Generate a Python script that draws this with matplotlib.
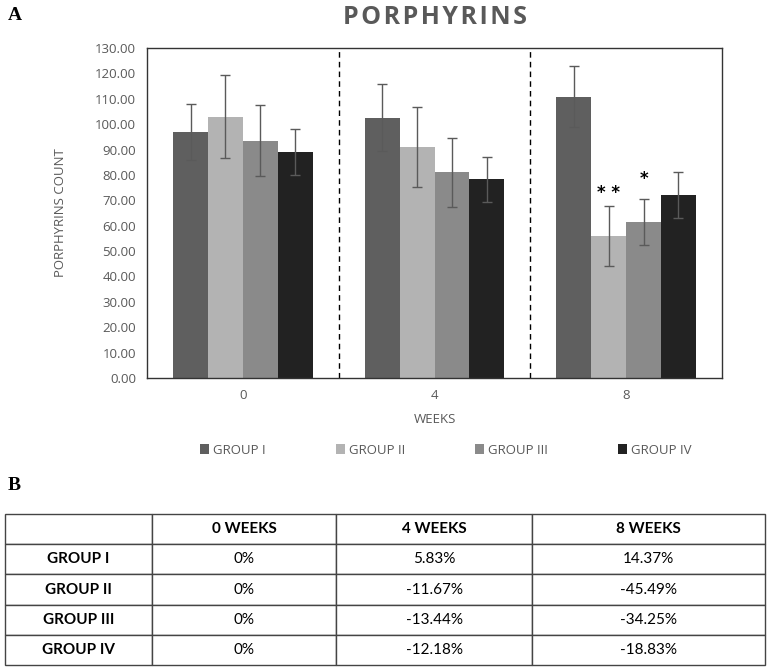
import matplotlib

matplotlib.use("Agg")
import matplotlib.pyplot as plt
import numpy as np

weeks = ["0", "4", "8"]
groups = ["GROUP I", "GROUP II", "GROUP III", "GROUP IV"]
colors = ["#5f5f5f", "#b3b3b3", "#8a8a8a", "#222222"]

# mean porphyrin counts per group, one value per week
means = [
    [97.0, 102.5, 110.8],
    [103.0, 91.0, 56.0],
    [93.5, 81.0, 61.5],
    [89.0, 78.3, 72.2],
]
errors = [
    [11.0, 13.2, 12.0],
    [16.5, 15.7, 11.9],
    [13.9, 13.5, 9.2],
    [8.9, 8.9, 9.1],
]
# significance marks: (week index, group index, label, y)
marks = [(2, 1, "* *", 69.5), (2, 2, "*", 75.0)]

table_cols = ["", "0 WEEKS", "4 WEEKS", "8 WEEKS"]
table_rows = [
    ["GROUP I", "0%", "5.83%", "14.37%"],
    ["GROUP II", "0%", "-11.67%", "-45.49%"],
    ["GROUP III", "0%", "-13.44%", "-34.25%"],
    ["GROUP IV", "0%", "-12.18%", "-18.83%"],
]

W, H = 769, 669
fig = plt.figure(figsize=(W / 100, H / 100), dpi=100)
txt = "#595959"
font = "Open Sans"


def frac(x0, y0, x1, y1):
    return [x0 / W, 1 - y1 / H, (x1 - x0) / W, (y1 - y0) / H]


ax = fig.add_axes(frac(147, 48, 722, 378))
x = np.arange(len(weeks))
bw = 0.182
for i, g in enumerate(groups):
    ax.bar(x + (i - 1.5) * bw, means[i], bw, color=colors[i], label=g,
           yerr=errors[i], error_kw=dict(ecolor="#5a5a5a", elinewidth=1, capsize=3.5, capthick=1))

for wi, gi, lab, yv in marks:
    ax.text(x[wi] + (gi - 1.5) * bw, yv, lab, ha="center", va="bottom",
            fontsize=12, fontweight="bold", color="black", family="DejaVu Sans")

for xv in [0.5, 1.5]:
    ax.axvline(xv, color="black", linestyle=(0, (4, 3)), linewidth=1)

ax.set_xlim(-0.5, 2.5)
ax.set_ylim(0, 130)
ax.set_yticks(np.arange(0, 131, 10))
ax.set_yticklabels([f"{v:.2f}" for v in np.arange(0, 131, 10)])
ax.set_xticks(x)
ax.set_xticklabels(weeks)
ax.tick_params(length=0, labelsize=9.5, labelcolor=txt, pad=8)
for lab in ax.get_xticklabels() + ax.get_yticklabels():
    lab.set_family(font)
for s in ax.spines.values():
    s.set_color("#333333")
    s.set_linewidth(1)

ax.set_ylabel("PORPHYRINS COUNT", fontsize=9.5, color=txt, family=font, labelpad=20)
ax.set_xlabel("WEEKS", fontsize=9.5, color=txt, family=font, labelpad=8)

fig.text(435 / W, 1 - 17 / H, "\u200a".join("PORPHYRINS"), ha="center", va="center",
         fontsize=18, fontweight="bold", color=txt, family=[font, "DejaVu Sans"])

leg = fig.legend(loc="center", bbox_to_anchor=(0.58, 1 - 450 / H), ncol=4, frameon=False,
                 handlelength=0.7, handleheight=0.7, handletextpad=0.3, columnspacing=5.3,
                 prop=dict(family=font, size=9.5))
for t in leg.get_texts():
    t.set_color(txt)

fig.text(8 / W, 1 - 15 / H, "A", fontsize=14, fontweight="bold", family="Liberation Serif", va="center")
fig.text(8 / W, 1 - 486 / H, "B", fontsize=14, fontweight="bold", family="Liberation Serif", va="center")

# table panel
tax = fig.add_axes(frac(5, 514, 765, 665))
tax.axis("off")
tbl = tax.table(cellText=[table_cols] + table_rows, bbox=[0, 0, 1, 1],
                colWidths=[0.193, 0.243, 0.258, 0.306], cellLoc="center")
tbl.auto_set_font_size(False)
for (r, c), cell in tbl.get_celld().items():
    cell.set_edgecolor("#444444")
    cell.set_linewidth(1)
    cell.get_text().set_fontsize(11)
    cell.get_text().set_family("Lato")
    if r == 0 or c == 0:
        cell.get_text().set_fontweight("bold")

fig.savefig("out.png", dpi=100)
